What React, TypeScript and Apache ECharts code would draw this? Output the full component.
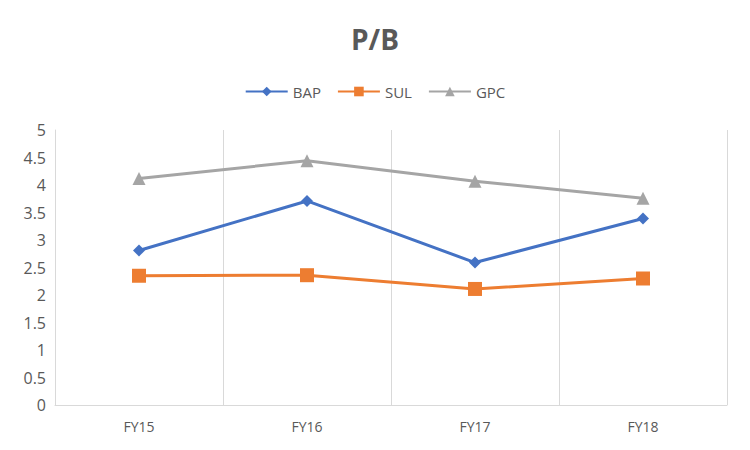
import React, { useEffect, useRef } from "react";
import * as echarts from "echarts";

const categories = ["FY15", "FY16", "FY17", "FY18"];
const bap = [2.81, 3.71, 2.59, 3.39];
const sul = [2.35, 2.36, 2.11, 2.3];
const gpc = [4.12, 4.44, 4.07, 3.76];

const FONT = "'Open Sans', 'Liberation Sans', sans-serif";
const TEXT = "#595959";

export default function App() {
  const ref = useRef<HTMLDivElement>(null);
  useEffect(() => {
    if (!ref.current) return;
    const chart = echarts.init(ref.current, undefined, { renderer: "svg" });
    const lineSeries = (name: string, data: number[], color: string, symbol: string, size: number) => ({
      name,
      type: "line",
      data,
      symbol,
      symbolSize: size,
      itemStyle: { color },
      lineStyle: { color, width: 3 },
    });
    chart.setOption({
      animation: false,
      backgroundColor: "#ffffff",
      title: {
        text: "P/B",
        left: "center",
        top: 20,
        textStyle: { fontFamily: FONT, fontSize: 28, fontWeight: "bold", color: TEXT },
      },
      legend: {
        top: 79,
        left: "center",
        itemWidth: 42,
        itemHeight: 12,
        itemGap: 16,
        textStyle: { fontFamily: FONT, fontSize: 15, color: TEXT },
        data: ["BAP", "SUL", "GPC"],
      },
      grid: { left: 55, right: 23, top: 130, bottom: 45, containLabel: false },
      xAxis: {
        type: "category",
        data: categories,
        boundaryGap: true,
        axisLine: { lineStyle: { color: "#d9d9d9", width: 1 } },
        axisTick: { show: false },
        axisLabel: { fontFamily: FONT, fontSize: 14, color: TEXT, margin: 14 },
        splitLine: { show: true, interval: 0, lineStyle: { color: "#d9d9d9", width: 1 } },
      },
      yAxis: {
        type: "value",
        min: 0,
        max: 5,
        interval: 0.5,
        axisLine: { show: true, lineStyle: { color: "#d9d9d9", width: 1 } },
        axisTick: { show: false },
        splitLine: { show: false },
        axisLabel: { fontFamily: FONT, fontSize: 16, color: TEXT, margin: 9 },
      },
      series: [
        lineSeries("BAP", bap, "#4472C4", "diamond", 12),
        lineSeries("SUL", sul, "#ED7D31", "rect", 14),
        lineSeries("GPC", gpc, "#A5A5A5", "triangle", 13),
      ],
    });
    return () => chart.dispose();
  }, []);
  return (
    <div
      ref={ref}
      style={{ position: "fixed", left: 0, top: 0, width: 750, height: 450 }}
    />
  );
}
